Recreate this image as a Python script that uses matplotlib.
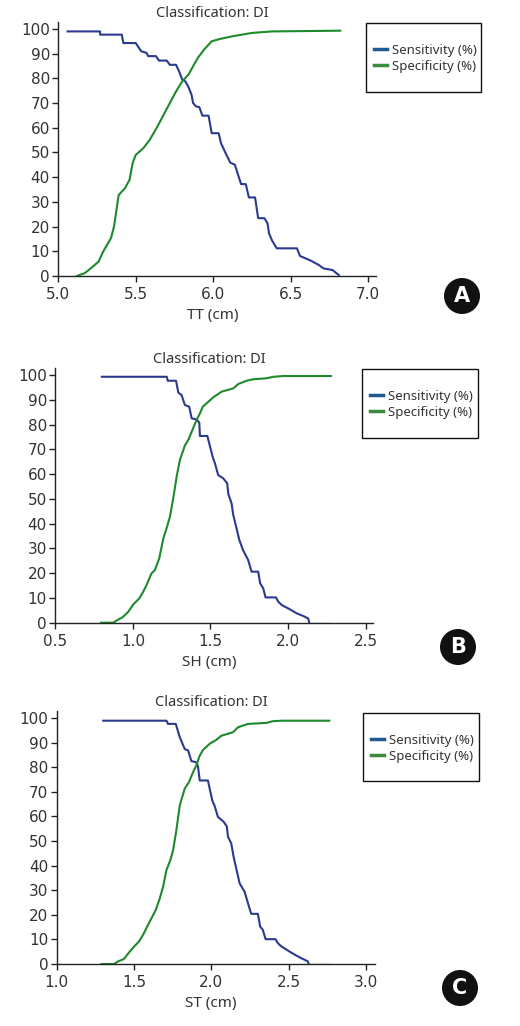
import matplotlib
matplotlib.use("Agg")
from matplotlib import pyplot as plt
from matplotlib.lines import Line2D
from matplotlib.patches import Circle, Rectangle

# panel A - TT (cm)
tt_sens_x = [5.06, 5.27, 5.27, 5.41, 5.42, 5.50, 5.535, 5.57, 5.58, 5.63, 5.65, 5.70, 5.72, 5.76,
             5.78, 5.80, 5.82, 5.84, 5.86, 5.87, 5.89, 5.91, 5.93, 5.97, 5.99, 6.035, 6.05, 6.08,
             6.11, 6.14, 6.16, 6.18, 6.21, 6.23, 6.27, 6.29, 6.33, 6.35, 6.36, 6.38, 6.41, 6.54,
             6.56, 6.63, 6.68, 6.71, 6.77, 6.81]
tt_sens_y = [99, 99, 97.7, 97.7, 94.3, 94.3, 91, 90.3, 89, 89, 87.2, 87.2, 85.5, 85.5,
             82.8, 79.5, 78.8, 76.5, 73.4, 70, 68.6, 68.4, 64.9, 64.9, 57.8, 57.8, 53.8, 49.7,
             45.9, 45, 41, 37.2, 37.2, 31.8, 31.8, 23.4, 23.4, 21.4, 17.3, 14.3, 11.2, 11.2,
             8.1, 6.2, 4.5, 3.1, 2.4, 0.4]
tt_spec_x = [5.12, 5.17, 5.21, 5.26, 5.29, 5.34, 5.36, 5.39, 5.43, 5.46, 5.48, 5.50, 5.55, 5.59,
             5.64, 5.68, 5.72, 5.76, 5.80, 5.84, 5.87, 5.90, 5.94, 5.99, 6.04, 6.12, 6.25, 6.38, 6.82]
tt_spec_y = [0, 1.1, 3.1, 5.8, 9.9, 15.3, 20, 32.8, 35.5, 38.9, 45.7, 49, 51.8, 55.1,
             60.5, 65.3, 70, 74.7, 78.8, 81.5, 84.9, 88.2, 91.6, 95, 95.9, 97, 98.4, 99, 99.3]

# panel B - SH (cm)
sh_sens_x = [0.80, 1.218, 1.225, 1.278, 1.293, 1.314, 1.335, 1.363, 1.379, 1.41, 1.428, 1.432,
             1.48, 1.514, 1.529, 1.55, 1.582, 1.608, 1.615, 1.636, 1.647, 1.668, 1.686, 1.71,
             1.743, 1.765, 1.808, 1.82, 1.84, 1.855, 1.922, 1.937, 1.96, 2.012, 2.055, 2.098,
             2.13, 2.137]
sh_sens_y = [99.3, 99.3, 97.7, 97.7, 92.9, 91.9, 87.9, 87.2, 82.5, 82.1, 80.8, 75.4,
             75.4, 67, 64.3, 59.6, 58.3, 56.3, 52, 48.2, 43.5, 38.1, 33.4, 29.3,
             25.3, 20.6, 20.6, 15.9, 13.9, 10.2, 10.2, 8.5, 7.1, 5.4, 3.8, 2.7,
             1.7, 0]
sh_tail_x = [2.137, 2.274]
sh_spec_x = [0.795, 0.874, 0.906, 0.934, 0.97, 1.003, 1.041, 1.063, 1.088, 1.12, 1.142, 1.17,
             1.196, 1.217, 1.239, 1.26, 1.282, 1.303, 1.336, 1.357, 1.379, 1.41, 1.432, 1.45,
             1.486, 1.518, 1.572, 1.647, 1.68, 1.733, 1.776, 1.862, 1.905, 1.97, 2.277]
sh_spec_y = [0, 0, 1.3, 2.2, 4.4, 7.4, 9.8, 12.1, 15.2, 19.9, 21.3, 26,
             34, 38.1, 42.8, 50.2, 59, 65.7, 71.7, 73.8, 77.1, 81.8, 84.5, 87.2,
             89.2, 91, 93.3, 94.6, 96.4, 97.7, 98.3, 98.7, 99.3, 99.6, 99.6]

# panel C - ST (cm)
st_sens_x = [1.301, 1.71, 1.72, 1.77, 1.796, 1.828, 1.85, 1.871, 1.903, 1.914, 1.925, 1.978,
             2.006, 2.02, 2.043, 2.08, 2.10, 2.108, 2.129, 2.144, 2.166, 2.183, 2.215, 2.237,
             2.258, 2.301, 2.316, 2.333, 2.351, 2.415, 2.43, 2.452, 2.505, 2.548, 2.581, 2.624,
             2.63]
st_sens_y = [98.9, 98.9, 97.6, 97.6, 92.2, 87.4, 86.8, 82.5, 82, 80.3, 74.6, 74.6,
             66.5, 64.5, 59.8, 57.8, 56, 51.7, 49, 43.6, 37.5, 32.8, 29.4, 24.7,
             20.4, 20.4, 15.2, 13.9, 10.1, 10.1, 8.5, 7.2, 5.1, 3.5, 2.4, 1.1,
             0]
st_tail_x = [2.63, 2.768]
st_spec_x = [1.29, 1.37, 1.398, 1.434, 1.473, 1.505, 1.533, 1.559, 1.585, 1.613, 1.641, 1.667,
             1.688, 1.71, 1.735, 1.753, 1.774, 1.796, 1.828, 1.856, 1.882, 1.903, 1.925, 1.946,
             1.989, 2.032, 2.065, 2.14, 2.172, 2.237, 2.355, 2.398, 2.462, 2.763]
st_spec_y = [0, 0, 1.1, 2, 5.1, 7.4, 9.2, 11.9, 15.2, 18.6, 22, 26.7,
             31.4, 38.2, 42.2, 46.3, 54.4, 64.5, 71.3, 74, 78, 80.7, 84.7, 87,
             89.5, 91.1, 92.8, 94.2, 96.2, 97.6, 98, 98.7, 98.9, 98.9]

y_ticks = list(range(0, 101, 10))

panels = [
    # rect, xlim, xticks, xlabel, letter, letter pos (px), legend box (px), data
    ([0.112, 0.731, 0.611, 0.248], (5.0, 7.05), [5.0, 5.5, 6.0, 6.5, 7.0], "TT (cm)", "A",
     (462, 296), (366, 23, 481, 92), tt_sens_x, tt_sens_y, None, tt_spec_x, tt_spec_y),
    ([0.1064, 0.3931, 0.611, 0.2486], (0.5, 2.548), [0.5, 1.0, 1.5, 2.0, 2.5], "SH (cm)", "B",
     (458, 647), (362, 369, 478, 438), sh_sens_x, sh_sens_y, sh_tail_x, sh_spec_x, sh_spec_y),
    ([0.109, 0.0604, 0.612, 0.247], (1.0, 3.058), [1.0, 1.5, 2.0, 2.5, 3.0], "ST (cm)", "C",
     (460, 988), (363, 713, 479, 781), st_sens_x, st_sens_y, st_tail_x, st_spec_x, st_spec_y),
]

W, H = 520, 1026
fig = plt.figure(figsize=(W / 100, H / 100), dpi=100)

sens_col = "#2b3a8f"
spec_col = "#1d8a2c"
txt_font = ["Noto Sans", "DejaVu Sans"]

for rect, xlim, xticks, xlabel, letter, lpos, lbox, sx, sy, tail, px, py in panels:
    ax = fig.add_axes(rect)
    ax.plot(sx, sy, color=sens_col, lw=1.5)
    if tail is not None:
        ax.plot(tail, [0, 0], color="#9a9fb8", lw=1.0)
    ax.plot(px, py, color=spec_col, lw=1.5)
    ax.set_xlim(*xlim)
    ax.set_ylim(0, 103)
    ax.set_xticks(xticks)
    ax.set_xticklabels(["%.1f" % t for t in xticks])
    ax.set_yticks(y_ticks)
    for s in ["top", "right"]:
        ax.spines[s].set_visible(False)
    for s in ["left", "bottom"]:
        ax.spines[s].set_color("#222222")
        ax.spines[s].set_linewidth(1.0)
    ax.tick_params(length=4, width=1.0, color="#222222", labelsize=11,
                   labelcolor="#333333")
    ax.tick_params(axis="x", pad=4)
    ax.tick_params(axis="y", pad=2)
    ax.set_title("Classification: DI", fontsize=10.5, color="#333333", pad=3,
                 family=txt_font, x=0.485)
    ax.set_xlabel(xlabel, fontsize=11, color="#333333", family=txt_font)
    ax.xaxis.set_label_coords(0.485, -0.125)

    # legend box
    x0, y0, x1, y1 = lbox
    fig.add_artist(Rectangle((x0 / W, 1 - y1 / H), (x1 - x0) / W, (y1 - y0) / H,
                             transform=fig.transFigure, fill=False, ec="#111111", lw=1.0))
    handles = [Line2D([], [], color="#1f5a92", lw=2.5),
               Line2D([], [], color="#3a8a3f", lw=2.5)]
    fig.legend(handles, ["Sensitivity (%)", "Specificity (%)"], frameon=False,
               loc="upper left", bbox_to_anchor=((x0 + 1) / W, 1 - (y0 + 14) / H),
               handlelength=1.0, handletextpad=0.4, labelspacing=0.25, borderpad=0,
               prop={"family": txt_font, "size": 9.5}, labelcolor="#333333")

    # panel letter
    cx, cy = lpos
    fig.add_artist(Circle((cx / 100, (H - cy) / 100), 0.18, transform=fig.dpi_scale_trans,
                          fc="#111111", ec="none"))
    fig.text(cx / W, 1 - cy / H, letter, ha="center", va="center", color="white",
             fontsize=15, fontweight="bold", family=["DejaVu Sans"])

fig.savefig("out.png", dpi=100)
